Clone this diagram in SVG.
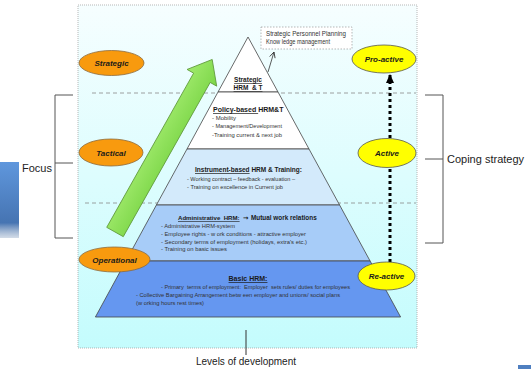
<svg xmlns="http://www.w3.org/2000/svg" width="531" height="369" viewBox="0 0 531 369">
  <defs>
    <linearGradient id="panelFill" x1="0" y1="0" x2="0" y2="1">
      <stop offset="0" stop-color="#f6feff"/>
      <stop offset="1" stop-color="#c4fcfd"/>
    </linearGradient>
    <linearGradient id="sideFill" x1="0" y1="0" x2="0" y2="1">
      <stop offset="0" stop-color="#5f97dd"/>
      <stop offset="0.8" stop-color="#4674b2"/>
      <stop offset="1" stop-color="#8fa6c4" stop-opacity="0.4"/>
    </linearGradient>
    <linearGradient id="greenFill" x1="0" y1="0" x2="0" y2="1">
      <stop offset="0" stop-color="#a0ea6c"/>
      <stop offset="1" stop-color="#7cd648"/>
    </linearGradient>
    <marker id="openHead" viewBox="0 0 10 10" refX="9" refY="5" markerWidth="7" markerHeight="7" orient="auto" markerUnits="userSpaceOnUse">
      <path d="M1,1 L9,5 L1,9" fill="none" stroke="#333" stroke-width="1.2"/>
    </marker>
    <marker id="solidHead" viewBox="0 0 10 10" refX="9" refY="5" markerWidth="9" markerHeight="9" orient="auto" markerUnits="userSpaceOnUse">
      <path d="M0,0.5 L10,5 L0,9.5 Z" fill="#000"/>
    </marker>
  </defs>
  <style>
    .side { font-family: "Liberation Sans", Arial, sans-serif; fill: #222; font-size: 11px; }
    .oval { font-family: "Liberation Sans", Arial, sans-serif; font-weight: bold; font-style: italic; font-size: 8px; fill: #1a1a1a; text-anchor: middle; }
    .orange { fill: #f89a0e; stroke: #8b6a3c; stroke-width: 0.8; }
    .yellow { fill: #ffff00; stroke: #555; stroke-width: 0.8; }
    .layer { stroke: #444; stroke-width: 0.8; }
    .hd { font-family: "Liberation Sans", Arial, sans-serif; font-weight: bold; font-size: 7px; fill: #1a1a1a; }
    .li { font-family: "Liberation Sans", Arial, sans-serif; font-size: 6px; fill: #333; }
    .u { text-decoration: underline; }
    .dash { stroke: #888; stroke-width: 0.8; stroke-dasharray: 4 3; fill: none; }
    .brk { stroke: #555; stroke-width: 1; fill: none; }
  </style>

  <!-- side tab at left edge -->
  <rect x="0" y="162" width="19" height="76" fill="url(#sideFill)"/>
  <!-- small tab bottom right -->
  <rect x="518" y="365" width="13" height="4" fill="#4f7fc0"/>

  <!-- background panel -->
  <rect id="panel" x="78" y="5" width="339" height="343" fill="url(#panelFill)" stroke="#999" stroke-width="0.7" stroke-dasharray="1 1"/>

  <!-- level separators -->
  <line class="dash" x1="92" y1="93" x2="416" y2="93"/>
  <line class="dash" x1="85" y1="203" x2="416" y2="203"/>

  <!-- pyramid -->
  <g id="pyramid">
    <g id="level-strategic">
      <polygon class="layer" points="248,37 278,92 218,92" fill="#ffffff"/>
      <text class="hd u" x="248" y="82" text-anchor="middle" style="font-size:6.5px">Strategic</text>
      <text class="hd u" x="248" y="90" text-anchor="middle" style="font-size:6.5px" xml:space="preserve">HRM  &amp; T</text>
    </g>
    <g id="level-policy">
      <polygon class="layer" points="218,92 278,92 309,149 187,149" fill="#ffffff"/>
      <text class="hd" x="213" y="112"><tspan class="u">Policy-based </tspan>HRM&amp;T</text>
      <text class="li" x="212" y="120">- Mobility</text>
      <text class="li" x="212" y="128" textLength="70" lengthAdjust="spacingAndGlyphs">- Management/Development</text>
      <text class="li" x="212" y="137" textLength="70" lengthAdjust="spacingAndGlyphs">-Training current &amp; next job</text>
    </g>
    <g id="level-instrument">
      <polygon class="layer" points="187,149 309,149 339.6,205 156.4,205" fill="#d3eafb"/>
      <text class="hd" x="195" y="172" textLength="107" lengthAdjust="spacingAndGlyphs"><tspan class="u">Instrument-based</tspan> HRM  &amp; Training:</text>
      <text class="li" x="187" y="181" textLength="108" lengthAdjust="spacingAndGlyphs">- Working contract – feedback - evaluation –</text>
      <text class="li" x="187" y="189" textLength="96" lengthAdjust="spacingAndGlyphs">- Training on excellence in Current job</text>
    </g>
    <g id="level-administrative">
      <polygon class="layer" points="156.4,205 339.6,205 370.1,261 125.9,261" fill="#a7ccf8"/>
      <text class="hd u" x="178" y="220" style="font-size:6.1px" xml:space="preserve">Administrative  HRM:</text>
      <text class="hd" x="243" y="220" style="font-family: 'DejaVu Sans', sans-serif; font-size: 6.5px">→</text>
      <text class="hd" x="251" y="220" style="font-size:6.4px">Mutual work relations</text>
      <text class="li" x="161" y="228" textLength="74" lengthAdjust="spacingAndGlyphs">- Administrative HRM-system</text>
      <text class="li" x="161" y="236" textLength="145" lengthAdjust="spacingAndGlyphs">- Employee rights - w ork conditions - attractive employer</text>
      <text class="li" x="161" y="243.5" textLength="146" lengthAdjust="spacingAndGlyphs">- Secondary terms of employment (holidays, extra's etc.)</text>
      <text class="li" x="161" y="251" textLength="66" lengthAdjust="spacingAndGlyphs">- Training on basic issues</text>
    </g>
    <g id="level-basic">
      <polygon class="layer" points="125.9,261 370.1,261 400.6,317 95.4,317" fill="#6597f0"/>
      <text class="hd u" x="248" y="281" text-anchor="middle">Basic HRM:</text>
      <text class="li" x="161" y="289" textLength="189" lengthAdjust="spacingAndGlyphs" xml:space="preserve">- Primary  terms of employment:  Employer  sets rules/ duties for employees</text>
      <text class="li" x="136" y="297" textLength="204" lengthAdjust="spacingAndGlyphs">- Collective Bargaining Arrangement betw een employer and unions/ social plans</text>
      <text class="li" x="136" y="305" textLength="68" lengthAdjust="spacingAndGlyphs">(w orking hours rest times)</text>
    </g>
  </g>

  <!-- callout -->
  <g id="callout">
    <rect x="261" y="27" width="91" height="22" fill="#ffffff" stroke="#999" stroke-width="0.7" stroke-dasharray="1.5 1.5"/>
    <text class="li" x="266" y="35.5" style="font-size:6.5px" textLength="80" lengthAdjust="spacingAndGlyphs">Strategic Personnel Planning</text>
    <text class="li" x="266" y="44" style="font-size:6.5px" textLength="64" lengthAdjust="spacingAndGlyphs">Know ledge management</text>
  </g>

  <!-- connectors -->
  <g id="connectors">
    <!-- callout pointer -->
    <line x1="268" y1="72" x2="274" y2="52" stroke="#333" stroke-width="0.8" marker-end="url(#openHead)"/>
    <!-- growth arrow -->
    <g transform="translate(115,232) rotate(-60.6)">
      <polygon points="0,-9.5 177,-9.5 177,-17 198,0 177,17 177,9.5 0,9.5" fill="url(#greenFill)" stroke="#5f9a3c" stroke-width="0.8"/>
    </g>
    <!-- coping progression -->
    <line x1="390" y1="262" x2="390" y2="168" stroke="#000" stroke-width="3" stroke-dasharray="3 3"/>
    <line x1="390" y1="138" x2="390" y2="75" stroke="#000" stroke-width="3" stroke-dasharray="3 3" marker-end="url(#solidHead)"/>
    <!-- focus bracket -->
    <path class="brk" d="M73,95 H55 V238 H73 M55,163 H73"/>
    <!-- coping bracket -->
    <path class="brk" d="M425,95 H443 V243 H425 M425,159 H443"/>
    <!-- development axis -->
    <line x1="246" y1="330" x2="246" y2="355" stroke="#333" stroke-width="1"/>
  </g>

  <!-- focus ovals -->
  <g id="strategic">
    <ellipse class="orange" cx="111.5" cy="63" rx="32.5" ry="12.5"/>
    <text class="oval" x="111.5" y="66">Strategic</text>
  </g>
  <g id="tactical">
    <ellipse class="orange" cx="111" cy="152.5" rx="32" ry="13.5"/>
    <text class="oval" x="111" y="155.5">Tactical</text>
  </g>
  <g id="operational">
    <ellipse class="orange" cx="114.5" cy="259.5" rx="35.5" ry="12.5"/>
    <text class="oval" x="114.5" y="262.5">Operational</text>
  </g>

  <!-- coping ovals -->
  <g id="pro-active">
    <ellipse class="yellow" cx="384" cy="59" rx="32" ry="14"/>
    <text class="oval" x="384" y="62">Pro-active</text>
  </g>
  <g id="active">
    <ellipse class="yellow" cx="387" cy="153" rx="29" ry="14.5"/>
    <text class="oval" x="387" y="156">Active</text>
  </g>
  <g id="re-active">
    <ellipse class="yellow" cx="386.5" cy="276" rx="28.5" ry="14"/>
    <text class="oval" x="386.5" y="279">Re-active</text>
  </g>

  <!-- axis labels -->
  <text class="side" x="22" y="172">Focus</text>
  <text class="side" x="447" y="163">Coping strategy</text>
  <text class="side" x="246" y="365" text-anchor="middle" style="font-size:10px">Levels of development</text>
</svg>
